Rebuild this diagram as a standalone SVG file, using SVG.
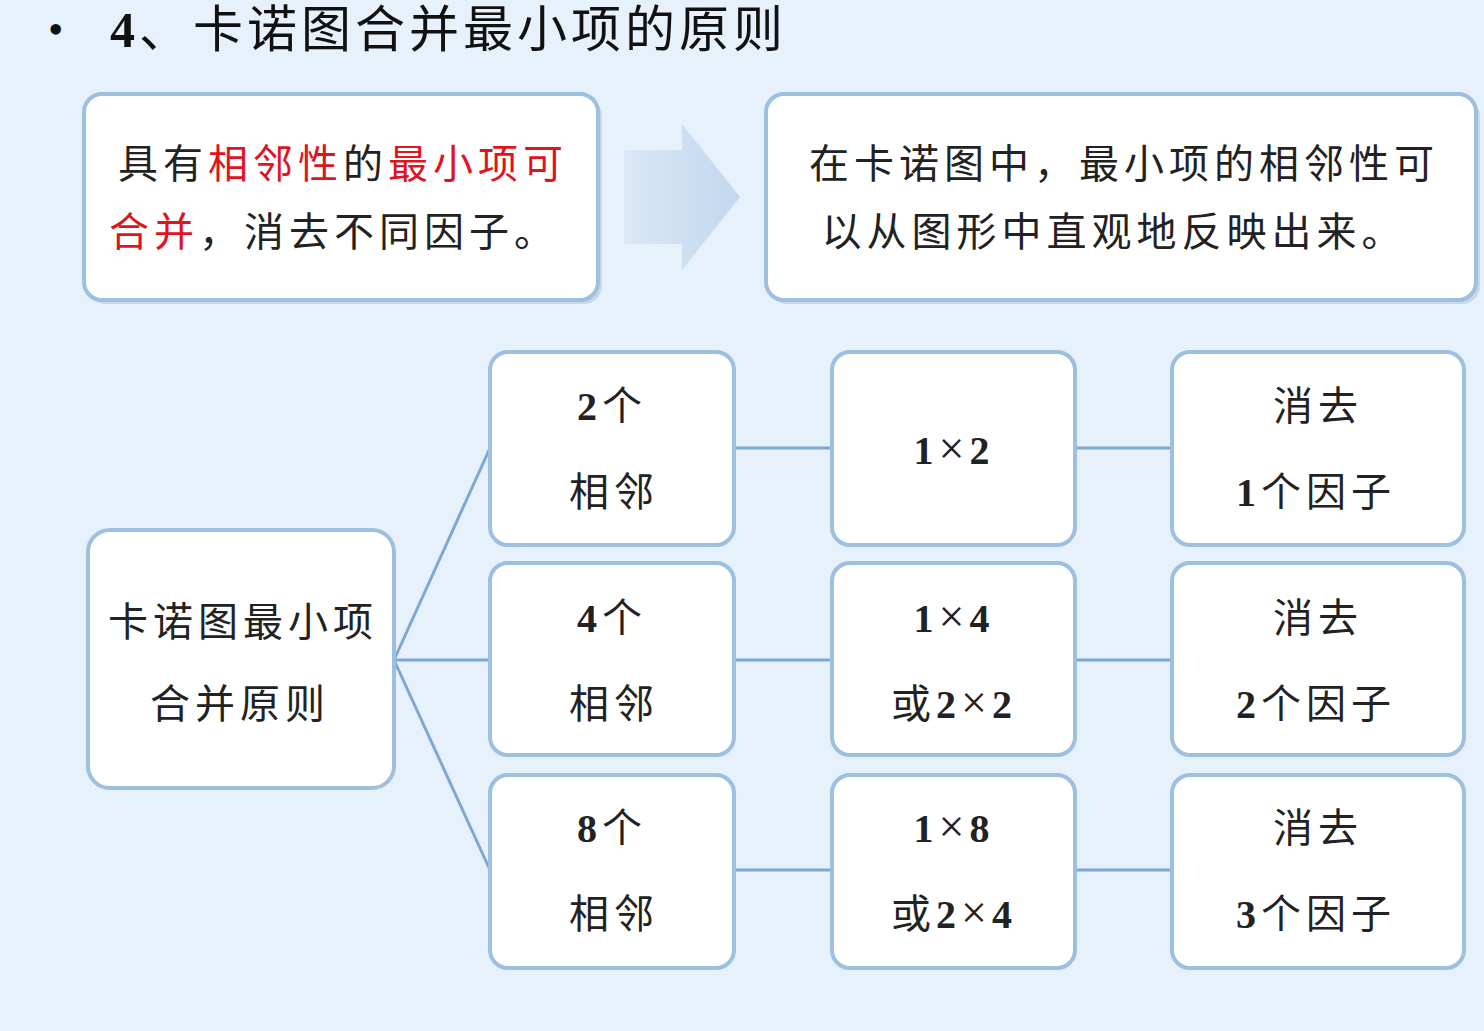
<svg xmlns="http://www.w3.org/2000/svg" width="1484" height="1031" viewBox="0 0 1484 1031">
<defs>
<style>
.b{fill:#fff;stroke:#9dbfe0;stroke-width:4}
.sh{fill:#b8c8d8;opacity:.6}
.t{font-family:"Liberation Serif","Noto Sans CJK SC",serif;font-size:40px;fill:#222;text-anchor:middle;letter-spacing:5px}
.n{font-weight:bold}
.x{font-size:46px;font-weight:normal}
.r{fill:#e0141e}
.c{stroke:#7fa8d0;stroke-width:3;fill:none}
</style>
<linearGradient id="ag" x1="0" y1="0" x2="1" y2="0"><stop offset="0" stop-color="#dbe8f6"/><stop offset="1" stop-color="#c2d7ef"/></linearGradient>
</defs>
<rect width="1484" height="1031" fill="#e6f1fb"/>
<text x="48" y="44" font-family="Liberation Serif,'Noto Sans CJK SC',serif" font-size="44" fill="#111">•</text>
<text x="110" y="47" font-family="Liberation Serif,'Noto Sans CJK SC',serif" font-size="50" letter-spacing="4" fill="#111"><tspan font-weight="bold">4</tspan>、卡诺图合并最小项的原则</text>
<g id="top-left"><rect x="88" y="98" width="514" height="206" rx="18" class="sh"/><rect x="84" y="94" width="514" height="206" rx="18" class="b"/>
<text class="t" x="343" y="178">具有<tspan class="r">相邻性</tspan>的<tspan class="r">最小项可</tspan></text>
<text class="t" x="334" y="246"><tspan class="r">合并</tspan>，消去不同因子。</text></g>
<g id="arrow"><polygon points="624,150 682,150 682,124 740,197 682,270 682,244 624,244" fill="url(#ag)"/></g>
<g id="top-right"><rect x="770" y="98" width="710" height="206" rx="18" class="sh"/><rect x="766" y="94" width="710" height="206" rx="18" class="b"/>
<text class="t" x="1124" y="178">在卡诺图中，最小项的相邻性可</text>
<text class="t" x="1114" y="246">以从图形中直观地反映出来。</text></g>
<g id="connectors">
<path class="c" d="M394 660 L490 448 M394 660 L490 660 M394 660 L490 870 M734 448 H832 M734 660 H832 M734 870 H832 M1075 448 H1172 M1075 660 H1172 M1075 870 H1172"/>
</g>
<g id="root"><rect x="88" y="530" width="306" height="258" rx="22" class="b"/>
<text class="t" x="243" y="636">卡诺图最小项</text><text class="t" x="240" y="718">合并原则</text></g>
<g id="a1"><rect x="490" y="352" width="244" height="193" rx="18" class="b"/><text class="t" x="612" y="420"><tspan class="n">2</tspan>个</text><text class="t" x="614" y="506">相邻</text></g>
<g id="a2"><rect x="490" y="563" width="244" height="192" rx="18" class="b"/><text class="t" x="612" y="632"><tspan class="n">4</tspan>个</text><text class="t" x="614" y="718">相邻</text></g>
<g id="a3"><rect x="490" y="775" width="244" height="193" rx="18" class="b"/><text class="t" x="612" y="842"><tspan class="n">8</tspan>个</text><text class="t" x="614" y="928">相邻</text></g>
<g id="b1"><rect x="832" y="352" width="243" height="193" rx="18" class="b"/><text class="t n" x="954" y="464">1<tspan class="x">×</tspan>2</text></g>
<g id="b2"><rect x="832" y="563" width="243" height="192" rx="18" class="b"/><text class="t n" x="954" y="632">1<tspan class="x">×</tspan>4</text><text class="t" x="954" y="718">或<tspan class="n">2</tspan><tspan class="x">×</tspan><tspan class="n">2</tspan></text></g>
<g id="b3"><rect x="832" y="775" width="243" height="193" rx="18" class="b"/><text class="t n" x="954" y="842">1<tspan class="x">×</tspan>8</text><text class="t" x="954" y="928">或<tspan class="n">2</tspan><tspan class="x">×</tspan><tspan class="n">4</tspan></text></g>
<g id="c1"><rect x="1172" y="352" width="292" height="193" rx="18" class="b"/><text class="t" x="1318" y="420">消去</text><text class="t" x="1316" y="506"><tspan class="n">1</tspan>个因子</text></g>
<g id="c2"><rect x="1172" y="563" width="292" height="192" rx="18" class="b"/><text class="t" x="1318" y="632">消去</text><text class="t" x="1316" y="718"><tspan class="n">2</tspan>个因子</text></g>
<g id="c3"><rect x="1172" y="775" width="292" height="193" rx="18" class="b"/><text class="t" x="1318" y="842">消去</text><text class="t" x="1316" y="928"><tspan class="n">3</tspan>个因子</text></g>
</svg>
